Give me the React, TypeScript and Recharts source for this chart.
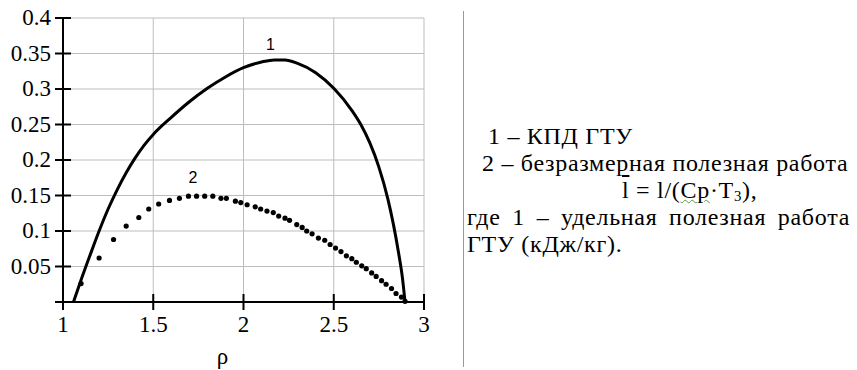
import { ComposedChart, Line, Scatter, XAxis, YAxis, CartesianGrid, ReferenceDot } from 'recharts';

// curve 1 - efficiency (solid line)
const rho1 = [1.058, 1.1, 1.15, 1.2, 1.25, 1.3, 1.35, 1.4, 1.45, 1.5, 1.6, 1.7, 1.8, 1.9, 2.0, 2.1, 2.17, 2.23, 2.3, 2.4, 2.5, 2.6, 2.65, 2.7, 2.75, 2.8, 2.83, 2.86, 2.88, 2.895];
const eta1 = [0, 0.031, 0.066, 0.1, 0.131, 0.158, 0.182, 0.203, 0.221, 0.236, 0.26, 0.282, 0.301, 0.317, 0.33, 0.338, 0.341, 0.341, 0.336, 0.323, 0.301, 0.27, 0.25, 0.224, 0.19, 0.145, 0.11, 0.068, 0.035, 0];

// curve 2 - dimensionless work (dots)
const rho2 = [1.1, 1.2, 1.28, 1.35, 1.42, 1.475, 1.53, 1.59, 1.645, 1.695, 1.74, 1.785, 1.83, 1.875, 1.905, 1.955, 1.985, 2.02, 2.065, 2.095, 2.13, 2.165, 2.195, 2.23, 2.255, 2.295, 2.325, 2.35, 2.38, 2.415, 2.45, 2.48, 2.51, 2.54, 2.57, 2.6, 2.625, 2.655, 2.68, 2.71, 2.735, 2.765, 2.79, 2.82, 2.845, 2.875, 2.895];
const work2 = [0.026, 0.062, 0.088, 0.107, 0.119, 0.131, 0.138, 0.143, 0.146, 0.149, 0.149, 0.149, 0.149, 0.146, 0.146, 0.142, 0.14, 0.137, 0.134, 0.131, 0.128, 0.126, 0.121, 0.118, 0.115, 0.109, 0.105, 0.1, 0.096, 0.09, 0.087, 0.081, 0.076, 0.071, 0.065, 0.061, 0.056, 0.051, 0.047, 0.041, 0.036, 0.03, 0.025, 0.019, 0.012, 0.007, 0.001];

const xTicks = [1, 1.5, 2, 2.5, 3];
const yTicks = [0, 0.05, 0.1, 0.15, 0.2, 0.25, 0.3, 0.35, 0.4];

const curve1 = rho1.map((x, i) => ({ x, y: eta1[i] }));
const curve2 = rho2.map((x, i) => ({ x, y: work2[i] }));

const serif = '"Liberation Serif", "Times New Roman", serif';
const sans = '"Liberation Sans", Arial, sans-serif';

function XTick({ x, y, payload }: any) {
  return (
    <g>
      <line x1={x} x2={x} y1={y - 16} y2={y} stroke="#000" strokeWidth={2} />
      <text x={x} y={y + 22} textAnchor="middle" fontFamily={serif} fontSize={23} fill="#000">
        {payload.value}
      </text>
    </g>
  );
}

function YTick({ x, y, payload }: any) {
  return (
    <g>
      <line x1={x + 4} x2={x + 20} y1={y} y2={y} stroke="#000" strokeWidth={2} />
      {payload.value !== 0 && (
        <text x={x} y={y + 7} textAnchor="end" fontFamily={serif} fontSize={23} fill="#000">
          {payload.value}
        </text>
      )}
    </g>
  );
}

const dot = (p: any) => <circle cx={p.cx} cy={p.cy} r={2.6} fill="#000" />;

const textLine = { position: 'absolute' as const, fontFamily: serif, fontSize: 24, letterSpacing: 0.7, lineHeight: '24px', color: '#000', whiteSpace: 'nowrap' as const };

export default function App() {
  return (
    <div style={{ position: 'relative', width: 857, height: 370, background: '#fff' }}>
      <style>{'body{margin:0}'}</style>
      <ComposedChart width={440} height={370} margin={{ top: 18, right: 16, bottom: 0, left: 0 }}>
        <CartesianGrid stroke="#bdbdbd" strokeWidth={1} />
        <XAxis
          type="number"
          dataKey="x"
          domain={[1, 3]}
          ticks={xTicks}
          interval={0}
          height={68}
          tickSize={0}
          tickMargin={8}
          tickLine={false}
          axisLine={{ stroke: '#000', strokeWidth: 2 }}
          tick={<XTick />}
          label={{ value: 'ρ', position: 'insideBottom', offset: 6, dx: -21, fontFamily: serif, fontSize: 23, fill: '#000' }}
        />
        <YAxis
          type="number"
          dataKey="y"
          domain={[0, 0.4]}
          ticks={yTicks}
          interval={0}
          width={63}
          tickSize={0}
          tickMargin={12}
          tickLine={false}
          axisLine={{ stroke: '#000', strokeWidth: 2 }}
          tick={<YTick />}
        />
        <Line data={curve1} dataKey="y" type="monotone" stroke="#000" strokeWidth={3} dot={false} isAnimationActive={false} />
        <Scatter data={curve2} dataKey="y" fill="#000" shape={dot} isAnimationActive={false} />
        <ReferenceDot x={2.15} y={0.363} r={0} fill="none" stroke="none"
          label={{ value: '1', position: 'center', fontFamily: sans, fontSize: 16, fill: '#000' }} />
        <ReferenceDot x={1.72} y={0.175} r={0} fill="none" stroke="none"
          label={{ value: '2', position: 'center', fontFamily: sans, fontSize: 16, fill: '#000' }} />
      </ComposedChart>
      <div style={{ position: 'absolute', left: 463, top: 11, width: 1, height: 356, background: '#9a9a9a' }} />
      <div style={{ ...textLine, left: 488, top: 124 }}>1 – КПД ГТУ</div>
      <div style={{ ...textLine, left: 482, top: 151 }}>2 – безразмерная полезная работа</div>
      <div style={{ ...textLine, left: 622, top: 178 }}>
        <span style={{ textDecoration: 'overline' }}>l</span> = l/(
        <span style={{ textDecoration: 'underline wavy #5a9a3a', textDecorationThickness: 1 }}>Cp</span>·T
        <span style={{ fontSize: '0.62em', position: 'relative', top: 3 }}>3</span>),
      </div>
      <div style={{ ...textLine, left: 467, top: 205, width: 383, textAlign: 'justify', textAlignLast: 'justify' }}>
        где 1 – удельная полезная работа
      </div>
      <div style={{ ...textLine, left: 467, top: 232 }}>ГТУ (кДж/кг).</div>
    </div>
  );
}
